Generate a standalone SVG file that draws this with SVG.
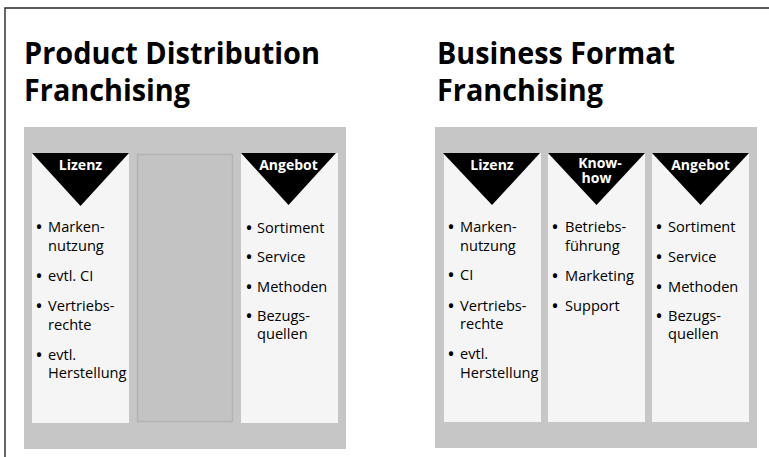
<svg xmlns="http://www.w3.org/2000/svg" width="769" height="457" viewBox="0 0 769 457">
  <style>
    .frame { stroke: #262626; stroke-width: 1.4; fill: none; }
    .panel { fill: #c6c6c6; }
    .col { fill: #f5f5f5; }
    .empty { fill: #c3c3c3; stroke: #b3b3b3; stroke-width: 1.5; }
    .tri { fill: #000000; }
    .title { font-family: "Open Sans", "Noto Sans", sans-serif; font-weight: 700; font-size: 31px; fill: #000; }
    .head { font-family: "Open Sans", "Noto Sans", sans-serif; font-weight: 700; font-size: 14px; fill: #fff; text-anchor: middle; }
    .item { font-family: "Open Sans", "Noto Sans", sans-serif; font-size: 14.6px; fill: #000; }
    .bul { font-family: "Open Sans", "Noto Sans", sans-serif; font-size: 20px; fill: #000; text-anchor: middle; }
  </style>
  <rect width="769" height="457" fill="#ffffff"/>
  <g id="frame">
    <path class="frame" d="M5,457 V8 H769"/>
  </g>

  <g id="product-distribution">
    <text class="title" x="24" y="64" textLength="296" lengthAdjust="spacingAndGlyphs">Product Distribution</text>
    <text class="title" x="24" y="101" textLength="166" lengthAdjust="spacingAndGlyphs">Franchising</text>
    <rect class="panel" x="24" y="127" width="322" height="322"/>

    <g id="pd-lizenz">
      <rect class="col" x="32" y="153" width="97" height="270"/>
      <polygon class="tri" points="32,153 129,153 80.5,206"/>
      <text class="head" x="80.5" y="170">Lizenz</text>
      <text class="bul" x="39" y="234">•</text><text class="item" x="48" y="232">Marken-</text>
      <text class="item" x="48" y="251">nutzung</text>
      <text class="bul" x="39" y="283">•</text><text class="item" x="48" y="281">evtl. CI</text>
      <text class="bul" x="39" y="313">•</text><text class="item" x="48" y="311">Vertriebs-</text>
      <text class="item" x="48" y="329.5">rechte</text>
      <text class="bul" x="39" y="361.5">•</text><text class="item" x="48" y="359.5">evtl.</text>
      <text class="item" x="48" y="378">Herstellung</text>
    </g>

    <g id="pd-empty">
      <rect class="empty" x="137.5" y="154.5" width="95" height="267"/>
    </g>

    <g id="pd-angebot">
      <rect class="col" x="241" y="153" width="97" height="270"/>
      <polygon class="tri" points="241,153 336,153 288.5,205"/>
      <text class="head" x="288.5" y="170">Angebot</text>
      <text class="bul" x="249" y="234.5">•</text><text class="item" x="257" y="232.5">Sortiment</text>
      <text class="bul" x="249" y="264">•</text><text class="item" x="257" y="262">Service</text>
      <text class="bul" x="249" y="294">•</text><text class="item" x="257" y="292">Methoden</text>
      <text class="bul" x="249" y="322.5">•</text><text class="item" x="257" y="320.5">Bezugs-</text>
      <text class="item" x="257" y="339">quellen</text>
    </g>
  </g>

  <g id="business-format">
    <text class="title" x="437" y="64" textLength="238" lengthAdjust="spacingAndGlyphs">Business Format</text>
    <text class="title" x="437" y="101" textLength="166" lengthAdjust="spacingAndGlyphs">Franchising</text>
    <rect class="panel" x="435" y="127" width="322" height="321"/>

    <g id="bf-lizenz">
      <rect class="col" x="444" y="153" width="97" height="269"/>
      <polygon class="tri" points="443,153 540,153 492,205"/>
      <text class="head" x="492" y="170">Lizenz</text>
      <text class="bul" x="451" y="234">•</text><text class="item" x="460" y="232">Marken-</text>
      <text class="item" x="460" y="250.5">nutzung</text>
      <text class="bul" x="451" y="282">•</text><text class="item" x="460" y="280">CI</text>
      <text class="bul" x="451" y="313">•</text><text class="item" x="460" y="311">Vertriebs-</text>
      <text class="item" x="460" y="329">rechte</text>
      <text class="bul" x="451" y="361">•</text><text class="item" x="460" y="359">evtl.</text>
      <text class="item" x="460" y="378">Herstellung</text>
    </g>

    <g id="bf-knowhow">
      <rect class="col" x="548" y="153" width="97" height="269"/>
      <polygon class="tri" points="548,153 645,153 596.5,205"/>
      <text class="head" x="600" y="167.5">Know-</text>
      <text class="head" x="596.5" y="183">how</text>
      <text class="bul" x="555" y="234">•</text><text class="item" x="565" y="232">Betriebs-</text>
      <text class="item" x="565" y="250.5">führung</text>
      <text class="bul" x="555" y="282.5">•</text><text class="item" x="565" y="280.5">Marketing</text>
      <text class="bul" x="555" y="312.5">•</text><text class="item" x="565" y="310.5">Support</text>
    </g>

    <g id="bf-angebot">
      <rect class="col" x="652" y="153" width="97" height="269"/>
      <polygon class="tri" points="652,153 749,153 700.5,205"/>
      <text class="head" x="700.5" y="170">Angebot</text>
      <text class="bul" x="659" y="234">•</text><text class="item" x="668" y="232">Sortiment</text>
      <text class="bul" x="659" y="264">•</text><text class="item" x="668" y="262">Service</text>
      <text class="bul" x="659" y="294">•</text><text class="item" x="668" y="292">Methoden</text>
      <text class="bul" x="659" y="322.5">•</text><text class="item" x="668" y="320.5">Bezugs-</text>
      <text class="item" x="668" y="339">quellen</text>
    </g>
  </g>

  <g id="connectors"></g>
</svg>
